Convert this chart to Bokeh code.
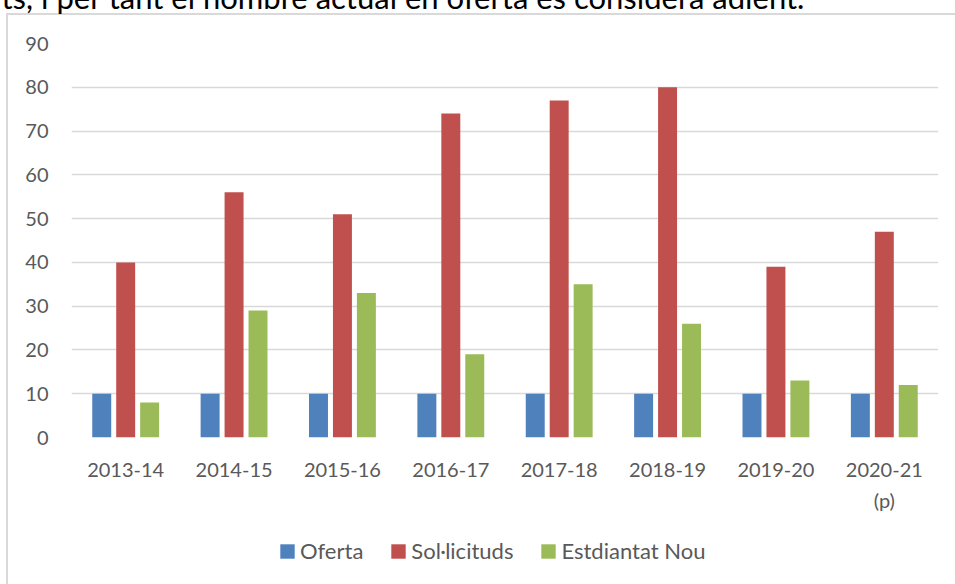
from bokeh.plotting import figure
from bokeh.models import (ColumnDataSource, FactorRange, Range1d, Legend, LegendItem,
                          FixedTicker, Label)
from bokeh.layouts import column
from bokeh.transform import dodge
from bokeh.embed import file_html
from bokeh.resources import INLINE

# ---- data ----
periods = ["2013-14", "2014-15", "2015-16", "2016-17", "2017-18",
           "2018-19", "2019-20", "2020-21\n(p)"]
oferta = [10, 10, 10, 10, 10, 10, 10, 10]
sollicituds = [40, 56, 51, 74, 77, 80, 39, 47]
estudiantat_nou = [8, 29, 33, 19, 35, 26, 13, 12]
series_names = ["Oferta", "Sol·licituds", "Estdiantat Nou"]
series_colors = ["#4F81BD", "#C0504D", "#9BBB59"]
y_ticks = [0, 10, 20, 30, 40, 50, 60, 70, 80, 90]
header_text = "ts, i per tant el nombre actual en oferta es considera adient."

FONT = "Lato"
TXT = "#595959"
GRID = "#D9D9D9"
LINE = "linear-gradient(#D9D9D9, #D9D9D9)"

MAIN_H = 520
LEG_H = 584 - MAIN_H

source = ColumnDataSource(dict(period=periods, oferta=oferta,
                               sollicituds=sollicituds, nou=estudiantat_nou))
cols = ["oferta", "sollicituds", "nou"]

# ---------------- main chart ----------------
p = figure(width=955, height=MAIN_H,
           x_range=FactorRange(factors=periods, range_padding=0),
           y_range=Range1d(0, 90), output_backend="svg", toolbar_location=None,
           min_border_left=71, min_border_right=17, min_border_top=43,
           min_border_bottom=MAIN_H - 437)
p.outline_line_color = None
p.background_fill_color = "white"
p.border_fill_alpha = 0
# chart-area border (left and top edges visible in the reference)
p.styles = {"background": f"{LINE} 6px 13px / 2px 100% no-repeat, "
                          f"{LINE} 6px 13px / 100% 2px no-repeat, white"}

bw = 0.175
off = 0.221
for i, (c, col) in enumerate(zip(cols, series_colors)):
    p.vbar(x=dodge("period", (i - 1) * off, range=p.x_range), top=c, width=bw,
           source=source, fill_color=col, line_color=None)

p.yaxis.ticker = FixedTicker(ticks=y_ticks)
p.yaxis.axis_line_color = None
p.yaxis.major_tick_line_color = None
p.yaxis.minor_tick_line_color = None
p.yaxis.major_tick_out = 0
p.yaxis.major_label_standoff = 23
p.yaxis.major_label_text_font = FONT
p.yaxis.major_label_text_font_size = "20px"
p.yaxis.major_label_text_color = TXT

p.xaxis.axis_line_color = None
p.xaxis.major_tick_line_color = None
p.xaxis.major_tick_out = 0
p.xaxis.major_label_standoff = 19
p.xaxis.major_label_text_font = FONT
p.xaxis.major_label_text_font_size = "20px"
p.xaxis.major_label_text_line_height = 1.31
p.xaxis.major_label_text_color = TXT

p.xgrid.grid_line_color = None
p.ygrid.grid_line_color = GRID
p.ygrid.grid_line_width = 1.3

# cut-off line of document text above the chart
p.add_layout(Label(x=1, y=-4, x_units="canvas", y_units="canvas", text=header_text,
                   text_baseline="alphabetic", text_font=FONT, text_font_size="31px",
                   text_color="black"), "above")

# ---------------- legend strip ----------------
lg = figure(width=955, height=LEG_H, x_range=Range1d(0, 1), y_range=Range1d(0, 1),
            output_backend="svg", toolbar_location=None,
            x_axis_location=None, y_axis_location=None,
            min_border=0, min_border_left=0, min_border_right=0,
            min_border_top=0, min_border_bottom=0)
lg.outline_line_color = None
lg.background_fill_alpha = 0
lg.border_fill_alpha = 0
lg.grid.visible = False
lg.styles = {"background": f"{LINE} 6px 0px / 2px 100% no-repeat, white"}

# legend-only renderers (hidden; only their swatches are shown)
leg_renderers = []
for c, col in zip(cols, series_colors):
    leg_renderers.append(lg.vbar(x=c, top=c, width=0.1, source=source,
                                 fill_color=col, line_color=None, visible=False))

legend = Legend(items=[LegendItem(label=n, renderers=[r]) for n, r in zip(series_names, leg_renderers)],
                orientation="horizontal", location=(207, 20), padding=0, margin=0,
                border_line_color=None, background_fill_alpha=0,
                inactive_fill_alpha=0, click_policy="none",
                glyph_width=18, glyph_height=18, label_standoff=4, spacing=26,
                label_text_font=FONT, label_text_font_size="22px", label_text_color=TXT)
lg.add_layout(legend, "center")

open("out.html", "w").write(file_html(column(p, lg, spacing=0), INLINE))
